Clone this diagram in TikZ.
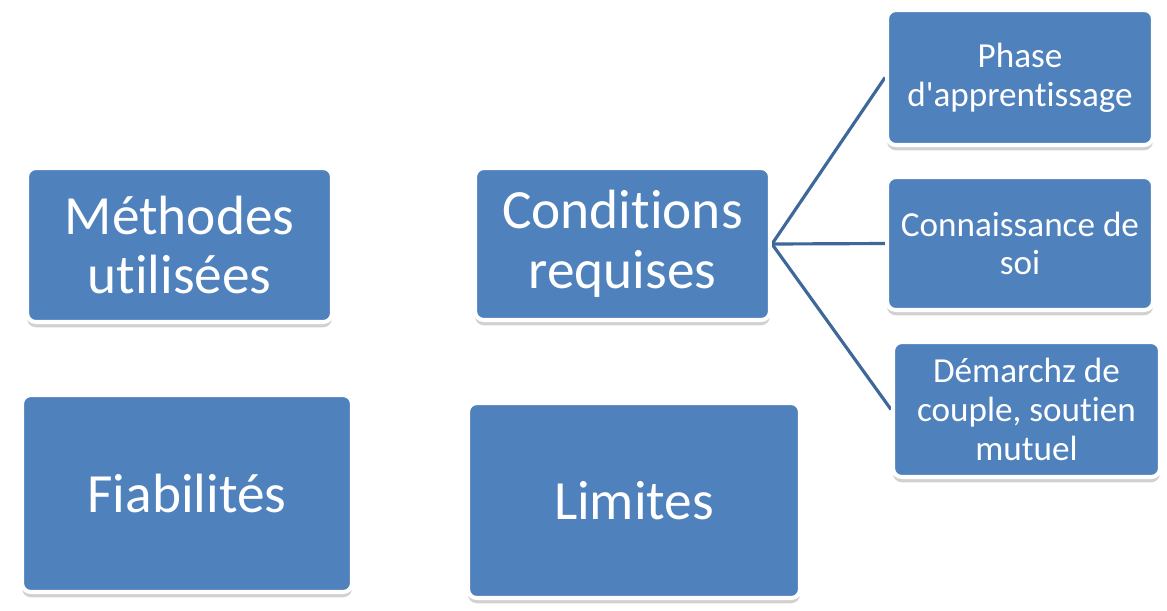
\documentclass[tikz,border=0pt]{standalone}
\usepackage{fontspec}
\newfontfamily\boxfont{Carlito}[Ligatures=NoCommon]
\usetikzlibrary{shadows,backgrounds}
\definecolor{boxblue}{HTML}{4F81BD}
\definecolor{linkblue}{HTML}{3D6899}

\begin{document}
\begin{tikzpicture}[x=0.02cm, y=-0.02cm, every node/.style={align=center},
bigbox/.style={fill=boxblue, draw=white, line width=2.3pt, rounded corners=5pt, text=white,
 font=\boxfont\fontsize{31.5pt}{34pt}\selectfont, inner sep=0pt,
 drop shadow={shadow xshift=0pt, shadow yshift=-3pt, opacity=0.3, fill=black!60}},
smallbox/.style={bigbox, font=\boxfont\fontsize{20pt}{22pt}\selectfont},
link/.style={draw=linkblue, line width=1.8pt}]
%================================================================
%	Frame
\useasboundingbox (0,0) rectangle (1167,610);

%================================================================
%	Nodes
\node[style=bigbox, minimum width=6.1cm, minimum height=3.08cm] (meth) at (179.5,245) {Méthodes\\utilisées};
\node[style=bigbox, minimum width=5.9cm, minimum height=3.04cm] (cond) at (622.5,244) {Conditions\\requises};
%----------------------------------------------------------------
\node[style=bigbox, minimum width=6.6cm, minimum height=3.94cm] (fiab) at (187,493.5) {Fiabilités};
\node[style=bigbox, minimum width=6.64cm, minimum height=3.9cm] (lim) at (634,500.5) {Limites};
%----------------------------------------------------------------
\node[style=smallbox, minimum width=5.32cm, minimum height=2.7cm] (phase) at (1020,77.5) {Phase\\d'apprentissage};
\node[style=smallbox, minimum width=5.32cm, minimum height=2.66cm] (conn) at (1020,243.5) {Connaissance de\\soi};
\node[style=smallbox, minimum width=5.34cm, minimum height=2.7cm] (dem) at (1026.5,409.5) {Démarchz de\\couple, soutien\\mutuel};

%================================================================
%	Lines
\begin{scope}[on background layer]
\draw[style=link] (cond.east) -- (phase.west);
\draw[style=link] (cond.east) -- (conn.west);
\draw[style=link] (cond.east) -- (dem.west);
\end{scope}
%================================================================
\end{tikzpicture}
\end{document}
